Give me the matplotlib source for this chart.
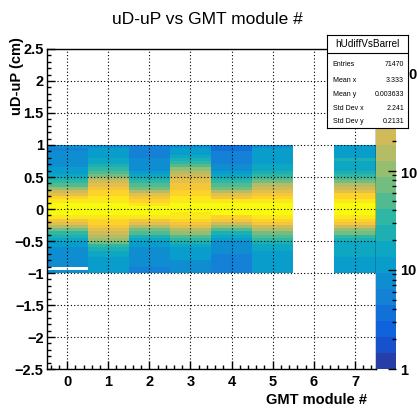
#!/usr/bin/env python3
"""
plot.py
=======
uD-uP vs GMT module # (ROOT style COLZ histogram, log z).
"""

import numpy as np
import matplotlib
matplotlib.use("Agg")
import matplotlib.pyplot as plt
from matplotlib.colors import LinearSegmentedColormap, ListedColormap, LogNorm
from matplotlib.ticker import FixedLocator, LogLocator, NullFormatter, MultipleLocator

plt.rcParams["font.family"] = ["Liberation Sans", "DejaVu Sans"]

# ------------------------------------------------------------------
# Data: bin counts per GMT module, y bins from -1 to 1 (0.05 wide),
# listed bottom -> top
# ------------------------------------------------------------------
modules = [0, 1, 2, 3, 4, 5, 6, 7]
y_lo, y_hi, n_ybins = -1.0, 1.0, 40

mod0 = [7, 0, 7, 8, 7, 8, 9, 8, 10, 12, 16, 24, 40, 70, 130, 300, 520, 820, 1200, 1450,
        1500, 1300, 950, 620, 380, 200, 100, 55, 30, 20, 14, 11, 10, 9, 8, 8, 7, 7, 6, 7]
mod1 = [10, 10, 11, 12, 13, 15, 19, 26, 38, 60, 100, 170, 260, 360, 520, 650, 800, 980, 1200, 1350,
        1350, 1200, 1000, 820, 680, 560, 420, 320, 220, 140, 85, 50, 32, 22, 17, 14, 12, 11, 10, 9]
mod2 = [6, 6, 7, 7, 7, 8, 8, 9, 10, 12, 17, 26, 45, 80, 140, 300, 520, 850, 1250, 1500,
        1450, 1150, 780, 480, 270, 130, 80, 50, 32, 22, 16, 12, 9, 8, 7, 7, 6, 6, 6, 5]
mod3 = [8, 9, 9, 9, 10, 10, 11, 13, 16, 22, 32, 55, 100, 180, 290, 480, 680, 900, 1150, 1400,
        1450, 1250, 1050, 880, 740, 600, 520, 450, 380, 300, 220, 150, 90, 50, 30, 20, 15, 13, 11, 9]
mod4 = [5, 5, 6, 6, 6, 6, 7, 7, 8, 9, 11, 16, 28, 55, 110, 260, 480, 800, 1200, 1500,
        1500, 1200, 820, 520, 300, 140, 80, 48, 30, 20, 14, 10, 8, 7, 6, 5, 5, 5, 4, 4]
mod5 = [10, 10, 10, 11, 11, 12, 13, 14, 17, 22, 30, 45, 75, 130, 220, 420, 680, 1000, 1400, 1650,
        1650, 1450, 1100, 780, 540, 320, 200, 130, 85, 55, 35, 25, 18, 15, 13, 12, 11, 10, 10, 9]
mod6 = [0] * 40
mod7 = [12, 13, 13, 13, 13, 14, 14, 15, 16, 19, 24, 35, 60, 110, 200, 400, 640, 950, 1300, 1600,
        1650, 1450, 1100, 800, 560, 330, 210, 130, 80, 50, 32, 22, 17, 15, 14, 22, 12, 11, 11, 10]

z_min, z_max = 1, 1700

stats_name = "hUdiffVsBarrel"
stats_rows = [("Entries", "71470"), ("Mean x", "3.333"), ("Mean y", "0.003633"),
              ("Std Dev x", "2.241"), ("Std Dev y", "0.2131")]

# ROOT kBird palette
bird_stops = [0.0, 0.125, 0.25, 0.375, 0.5, 0.625, 0.75, 0.875, 1.0]
bird_r = [0.2082, 0.0592, 0.0780, 0.0232, 0.1802, 0.5301, 0.8186, 0.9956, 0.9764]
bird_g = [0.1664, 0.3599, 0.5041, 0.6419, 0.7178, 0.7492, 0.7328, 0.7862, 0.9832]
bird_b = [0.5293, 0.8684, 0.8385, 0.7914, 0.6425, 0.4662, 0.3499, 0.1968, 0.0539]

W, H = 417, 411


def px(x0, y0, x1, y1):
    """pixel box (top-left origin) -> figure rect"""
    return [x0 / W, 1 - y1 / H, (x1 - x0) / W, (y1 - y0) / H]


def main():
    bird = LinearSegmentedColormap.from_list(
        "bird", list(zip(bird_stops, zip(bird_r, bird_g, bird_b))), N=255)
    ncont = 20
    cmap = ListedColormap([bird((i + 0.99) / ncont) for i in range(ncont)])
    norm = LogNorm(vmin=z_min, vmax=z_max)

    counts = np.column_stack([mod0, mod1, mod2, mod3, mod4, mod5, mod6, mod7]).astype(float)
    counts = np.ma.masked_less_equal(counts, 0)
    x_edges = np.array(modules + [modules[-1] + 1]) - 0.5
    y_edges = np.linspace(y_lo, y_hi, n_ybins + 1)

    fig = plt.figure(figsize=(W / 100, H / 100), dpi=100)
    ax = fig.add_axes(px(46.5, 49, 375.5, 369))
    mesh = ax.pcolormesh(x_edges, y_edges, counts, cmap=cmap, norm=norm)

    ax.set_xlim(-0.5, 7.5)
    ax.set_ylim(-2.5, 2.5)
    ax.xaxis.set_major_locator(MultipleLocator(1))
    ax.xaxis.set_minor_locator(MultipleLocator(0.2))
    ax.yaxis.set_major_locator(MultipleLocator(0.5))
    ax.yaxis.set_minor_locator(MultipleLocator(0.1))
    ax.tick_params(which="both", direction="in", top=False, right=False,
                   labelsize=10.5, width=1)
    ax.tick_params(which="major", length=6)
    ax.tick_params(which="minor", length=3)
    ax.tick_params(axis="x", pad=4)
    ax.tick_params(axis="y", pad=2)
    for lab in ax.get_xticklabels() + ax.get_yticklabels():
        lab.set_fontweight("bold")
    ax.yaxis.set_major_formatter(plt.FuncFormatter(
        lambda v, _: ("%g" % v).replace("-", "\u2212")))
    ax.set_axisbelow(False)
    ax.grid(True, which="major", color="black", linestyle=(0, (1, 2)), linewidth=0.8)
    for sp in ax.spines.values():
        sp.set_linewidth(1)

    # palette
    cax = fig.add_axes(px(376, 49, 396, 369))
    cb = fig.colorbar(mesh, cax=cax)
    cb.outline.set_visible(False)
    cax.set_ylim(z_min, z_max)
    cax.yaxis.set_major_locator(FixedLocator([1, 10, 100, 1000]))
    cax.yaxis.set_minor_locator(LogLocator(base=10, subs=np.arange(2, 10)))
    cax.yaxis.set_minor_formatter(NullFormatter())
    cax.set_yticklabels(["1", "10", "10$^{2}$", "10$^{3}$"], fontweight="bold", fontsize=10.5)
    cax.tick_params(which="both", direction="in", right=True, left=False, width=1)
    cax.tick_params(which="major", length=6, pad=3)
    cax.tick_params(which="minor", length=3)

    # titles
    fig.text(207 / W, 1 - 19 / H, "uD-uP vs GMT module #", ha="center", va="center",
             fontsize=12.5)
    fig.text(17 / W, 1 - 37 / H, "uD-uP (cm)", rotation=90, ha="center", va="top",
             fontsize=10.5, fontweight="bold")
    fig.text(367 / W, 1 - 400 / H, "GMT module #", ha="right", va="center",
             fontsize=10.5, fontweight="bold")

    # stats box
    sb = fig.add_axes(px(327, 35, 408, 128))
    sb.set_zorder(10)
    sb.set_xlim(0, 1)
    sb.set_ylim(0, 1)
    sb.set_xticks([])
    sb.set_yticks([])
    sb.set_facecolor("white")
    for sp in sb.spines.values():
        sp.set_linewidth(0.8)
    sep = 1 - (53 - 35) / (128 - 35)
    sb.axhline(sep, color="black", linewidth=0.8)
    sb.text(0.5, (1 + sep) / 2, stats_name, ha="center", va="center", fontsize=7.2)
    row_y = [65, 80, 94.5, 108, 121]
    for (name, val), yy in zip(stats_rows, row_y):
        fy = 1 - (yy - 35) / (128 - 35)
        sb.text(0.07, fy, name, ha="left", va="center", fontsize=5)
        sb.text(0.95, fy, val, ha="right", va="center", fontsize=5)

    fig.savefig("out.png", dpi=100)
    plt.close(fig)


if __name__ == "__main__":
    main()
